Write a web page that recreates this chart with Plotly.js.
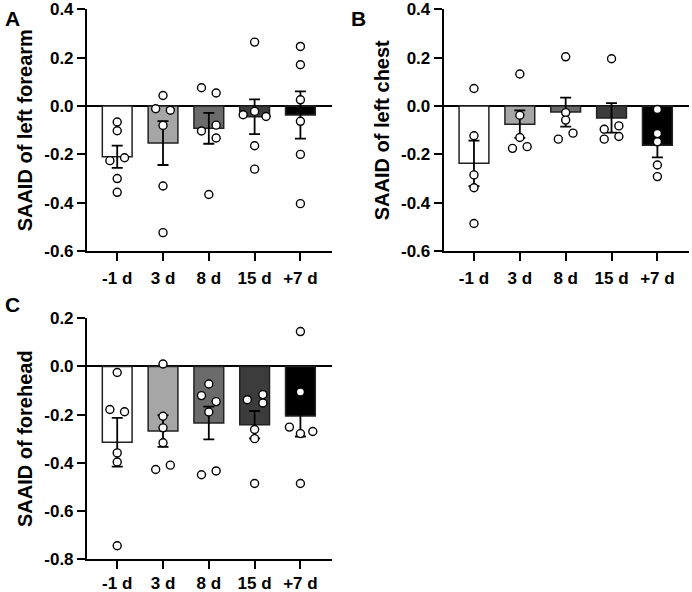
<!DOCTYPE html>
<html>
<head>
<meta charset="utf-8">
<script src="https://cdn.plot.ly/plotly-3.0.1.min.js"></script>
<style>
  body { margin: 0; background: #fff; }
  #chart { width: 692px; height: 592px; }
</style>
</head>
<body>
<div id="chart"></div>
<script>
// categories and colours
var days = ['-1 d', '3 d', '8 d', '15 d', '+7 d'];
var barColors = ['#ffffff', '#a6a6a6', '#6b6b6b', '#3c3c3c', '#000000'];

// panel A - left forearm
var forearmMean = [-0.21, -0.153, -0.092, -0.044, -0.037];
var forearmSem  = [0.046, 0.091, 0.064, 0.072, 0.098];
var forearmPts = [
  [-0.066, -0.102, -0.226, -0.214, -0.30, -0.357],
  [0.044, -0.011, -0.017, -0.08, -0.331, -0.524],
  [0.076, 0.054, -0.079, -0.103, -0.132, -0.366],
  [0.265, -0.022, -0.036, -0.043, -0.164, -0.261],
  [0.247, 0.171, 0.026, -0.063, -0.2, -0.404]
];
var forearmJit = [
  [0, 0, -0.16, 0.16, 0, 0],
  [0, -0.16, 0.16, 0, 0, 0],
  [-0.16, 0.16, 0.16, -0.16, 0.16, 0],
  [0, 0, -0.25, 0.25, 0, 0],
  [0, 0, 0, 0, 0, 0]
];

// panel B - left chest
var chestMean = [-0.237, -0.075, -0.025, -0.049, -0.162];
var chestSem  = [0.094, 0.057, 0.06, 0.061, 0.05];
var chestPts = [
  [0.073, -0.123, -0.285, -0.338, -0.486],
  [0.133, -0.038, -0.130, -0.175, -0.168],
  [0.204, -0.027, -0.058, -0.137, -0.112],
  [0.196, -0.096, -0.082, -0.137, -0.126],
  [-0.014, -0.114, -0.148, -0.244, -0.292]
];
var chestJit = [
  [0, 0, 0, 0, 0],
  [0, 0, 0, -0.16, 0.16],
  [0, 0, 0, -0.16, 0.16],
  [0, -0.16, 0.16, -0.16, 0.16],
  [0, 0, 0, 0, 0]
];

// panel C - forehead
var foreheadMean = [-0.315, -0.268, -0.235, -0.242, -0.206];
var foreheadSem  = [0.101, 0.066, 0.068, 0.057, 0.085];
var foreheadPts = [
  [-0.025, -0.179, -0.188, -0.359, -0.397, -0.745],
  [0.01, -0.207, -0.255, -0.317, -0.428, -0.41],
  [-0.073, -0.121, -0.146, -0.189, -0.45, -0.434],
  [-0.138, -0.117, -0.152, -0.262, -0.30, -0.486],
  [0.145, -0.106, -0.252, -0.279, -0.270, -0.486]
];
var foreheadJit = [
  [0, -0.16, 0.16, 0, 0, 0],
  [0, 0, 0, 0, -0.16, 0.16],
  [0, -0.16, 0.16, 0, -0.16, 0.16],
  [-0.16, 0.18, 0.18, 0, 0, 0],
  [0, 0, -0.24, 0, 0.27, 0]
];

var ticksAB = [-0.6, -0.4, -0.2, 0.0, 0.2, 0.4];
var tickTextAB = ['-0.6', '-0.4', '-0.2', '0.0', '0.2', '0.4'];
var ticksC = [-0.8, -0.6, -0.4, -0.2, 0.0, 0.2];
var tickTextC = ['-0.8', '-0.6', '-0.4', '-0.2', '0.0', '0.2'];

var fontFam = 'Liberation Sans, Arial, sans-serif';

function panelTraces(mean, sem, pts, jit, xa, ya) {
  var bar = {
    type: 'bar',
    x: [0, 1, 2, 3, 4],
    y: mean,
    width: 0.65,
    marker: { color: barColors, line: { color: '#222', width: 1.5 } },
    error_y: { type: 'data', array: sem, visible: true, color: '#000', thickness: 1.8, width: 5.5 },
    xaxis: xa, yaxis: ya,
    hoverinfo: 'none'
  };
  var px = [], py = [];
  pts.forEach(function(g, i) {
    g.forEach(function(v, j) {
      px.push(i + jit[i][j]);
      py.push(v);
    });
  });
  var dots = {
    type: 'scatter',
    mode: 'markers',
    x: px, y: py,
    marker: { size: 8, color: '#fff', line: { color: '#000', width: 1.4 } },
    xaxis: xa, yaxis: ya,
    hoverinfo: 'none'
  };
  return [bar, dots];
}

function xAxis(domain, anchor, standoff) {
  return {
    domain: domain, anchor: anchor,
    range: [-0.66, 4.69],
    tickvals: [0, 1, 2, 3, 4], ticktext: days,
    showline: true, linecolor: '#000', linewidth: 2,
    ticks: 'outside', ticklen: 8, tickwidth: 2, tickcolor: '#000',
    ticklabelstandoff: standoff,
    showgrid: false, zeroline: false,
    tickfont: { family: fontFam, size: 17, color: '#000', weight: 'bold' }
  };
}

function yAxis(domain, anchor, range, tv, tt, title) {
  return {
    domain: domain, anchor: anchor,
    range: range,
    tickvals: tv, ticktext: tt,
    showline: true, linecolor: '#000', linewidth: 2,
    ticks: 'outside', ticklen: 8, tickwidth: 2, tickcolor: '#000',
    showgrid: false,
    zeroline: true, zerolinecolor: '#000', zerolinewidth: 2,
    tickfont: { family: fontFam, size: 17, color: '#000', weight: 'bold' },
    title: { text: title, standoff: 6, font: { family: fontFam, size: 20, color: '#000', weight: 'bold' } }
  };
}

var data = []
  .concat(panelTraces(forearmMean, forearmSem, forearmPts, forearmJit, 'x', 'y'))
  .concat(panelTraces(chestMean, chestSem, chestPts, chestJit, 'x2', 'y2'))
  .concat(panelTraces(foreheadMean, foreheadSem, foreheadPts, foreheadJit, 'x3', 'y3'));

var layout = {
  width: 692, height: 592,
  margin: { l: 0, r: 0, t: 0, b: 0 },
  paper_bgcolor: '#fff', plot_bgcolor: '#fff',
  showlegend: false,
  bargap: 0,
  xaxis: xAxis([0.1257, 0.4798], 'y', 3),
  yaxis: yAxis([0.576, 0.984], 'x', [-0.6, 0.4], ticksAB, tickTextAB, 'SAAID of left forearm'),
  xaxis2: xAxis([0.6412, 0.9957], 'y2', 3),
  yaxis2: yAxis([0.576, 0.984], 'x2', [-0.6, 0.4], ticksAB, tickTextAB, 'SAAID of left chest'),
  xaxis3: xAxis([0.1257, 0.4798], 'y3', 0),
  yaxis3: yAxis([0.0557, 0.4623], 'x3', [-0.8, 0.2], ticksC, tickTextC, 'SAAID of forehead'),
  annotations: [
    { text: 'A', x: 3 / 692, y: 1 - 5 / 592 },
    { text: 'B', x: 349 / 692, y: 1 - 5 / 592 },
    { text: 'C', x: 3 / 692, y: 1 - 291 / 592 }
  ].map(function(a) {
    return {
      text: a.text, x: a.x, y: a.y, xref: 'paper', yref: 'paper',
      xanchor: 'left', yanchor: 'top', showarrow: false,
      font: { family: fontFam, size: 21, color: '#000', weight: 'bold' }
    };
  })
};

Plotly.newPlot('chart', data, layout, { staticPlot: true });
</script>
</body>
</html>
